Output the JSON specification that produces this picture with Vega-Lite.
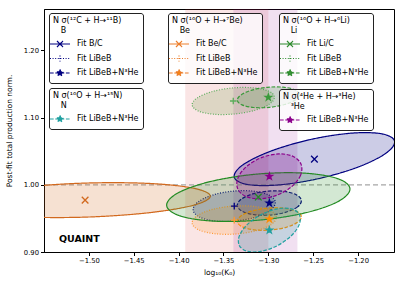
{
"$schema":"https://vega.github.io/schema/vega-lite/v6.json",
"width":350,"height":243,
"autosize":{"type":"none"},
"padding":{"left":44,"top":9,"right":9,"bottom":35},
"background":"white",
"config":{
 "font":"DejaVu Sans",
 "view":{"stroke":"black","strokeWidth":1},
 "axis":{"domainColor":"black","domainWidth":1,"tickColor":"black","tickSize":3.5,"tickWidth":1,"labelFont":"DejaVu Sans","labelFontSize":6.8,"labelColor":"black","labelPadding":2,"labelFlush":false,"labelOverlap":false,"titleFont":"DejaVu Sans","titleFontSize":7.5,"titleFontWeight":"normal","titleColor":"black","grid":false},
 "legend":{"labelFont":"DejaVu Sans","labelFontSize":8,"labelColor":"black","titleFont":"DejaVu Sans","titleFontSize":8,"titleFontWeight":"normal","titleColor":"black","titleLineHeight":10,"titlePadding":2,"titleAnchor":"start","strokeColor":"#222222","fillColor":"rgba(255,255,255,0.8)","cornerRadius":2.5,"padding":4,"symbolSize":144,"rowPadding":1.5,"labelOffset":10,"symbolStrokeWidth":1.2,"symbolOpacity":1}
},
"datasets":{
 "bands":[{"x":-1.3926,"x2":-1.3,"b":"LiBeB"},{"x":-1.339,"x2":-1.2676,"b":"LiBeB+N3He"}],
 "ref":[{"y":1}],
 "pts":[
  {"s":"B1","g":"B","f":"r","x":-1.2487,"y":1.0382},
  {"s":"B2","g":"B","f":"l","x":-1.338,"y":0.9683},
  {"s":"B3","g":"B","f":"n","x":-1.2989,"y":0.9728},
  {"s":"Be1","g":"Be","f":"r","x":-1.5042,"y":0.9772},
  {"s":"Be2","g":"Be","f":"l","x":-1.338,"y":0.9475},
  {"s":"Be3","g":"Be","f":"n","x":-1.2989,"y":0.949},
  {"s":"Li1","g":"Li","f":"r","x":-1.3112,"y":0.9817},
  {"s":"Li2","g":"Li","f":"l","x":-1.3391,"y":1.1246},
  {"s":"Li3","g":"Li","f":"n","x":-1.3,"y":1.1301},
  {"s":"N3","g":"N","f":"n","x":-1.2989,"y":0.9326},
  {"s":"He3","g":"He","f":"n","x":-1.2989,"y":1.0125}
 ],
 "ell":[
  {"s":"B1","i":0,"x":-1.1594,"y":1.065},{"s":"B1","i":1,"x":-1.169,"y":1.0469},{"s":"B1","i":2,"x":-1.1998,"y":1.0265},{"s":"B1","i":3,"x":-1.2438,"y":1.0092},{"s":"B1","i":4,"x":-1.2891,"y":0.9997},{"s":"B1","i":5,"x":-1.3236,"y":1.0005},{"s":"B1","i":6,"x":-1.338,"y":1.0114},{"s":"B1","i":7,"x":-1.3285,"y":1.0295},{"s":"B1","i":8,"x":-1.2976,"y":1.0499},{"s":"B1","i":9,"x":-1.2536,"y":1.0672},{"s":"B1","i":10,"x":-1.2083,"y":1.0767},{"s":"B1","i":11,"x":-1.1739,"y":1.0759},
  {"s":"B2","i":0,"x":-1.2922,"y":0.9743},{"s":"B2","i":1,"x":-1.2976,"y":0.9624},{"s":"B2","i":2,"x":-1.3137,"y":0.952},{"s":"B2","i":3,"x":-1.3364,"y":0.9461},{"s":"B2","i":4,"x":-1.3595,"y":0.9461},{"s":"B2","i":5,"x":-1.3768,"y":0.9521},{"s":"B2","i":6,"x":-1.3838,"y":0.9624},{"s":"B2","i":7,"x":-1.3784,"y":0.9743},{"s":"B2","i":8,"x":-1.3623,"y":0.9846},{"s":"B2","i":9,"x":-1.3396,"y":0.9905},{"s":"B2","i":10,"x":-1.3165,"y":0.9905},{"s":"B2","i":11,"x":-1.2992,"y":0.9846},
  {"s":"B3","i":0,"x":-1.2632,"y":0.9765},{"s":"B3","i":1,"x":-1.2675,"y":0.9671},{"s":"B3","i":2,"x":-1.2802,"y":0.9593},{"s":"B3","i":3,"x":-1.2979,"y":0.955},{"s":"B3","i":4,"x":-1.3159,"y":0.9555},{"s":"B3","i":5,"x":-1.3293,"y":0.9607},{"s":"B3","i":6,"x":-1.3346,"y":0.9691},{"s":"B3","i":7,"x":-1.3303,"y":0.9785},{"s":"B3","i":8,"x":-1.3176,"y":0.9864},{"s":"B3","i":9,"x":-1.2999,"y":0.9906},{"s":"B3","i":10,"x":-1.282,"y":0.9901},{"s":"B3","i":11,"x":-1.2685,"y":0.9849},
  {"s":"Be1","i":0,"x":-1.3647,"y":0.9832},{"s":"Be1","i":1,"x":-1.3831,"y":0.9697},{"s":"Be1","i":2,"x":-1.4339,"y":0.9583},{"s":"Be1","i":3,"x":-1.5036,"y":0.9519},{"s":"Be1","i":4,"x":-1.5735,"y":0.9523},{"s":"Be1","i":5,"x":-1.6247,"y":0.9594},{"s":"Be1","i":6,"x":-1.6437,"y":0.9713},{"s":"Be1","i":7,"x":-1.6253,"y":0.9847},{"s":"Be1","i":8,"x":-1.5747,"y":0.9961},{"s":"Be1","i":9,"x":-1.5048,"y":1.0025},{"s":"Be1","i":10,"x":-1.4344,"y":1.0021},{"s":"Be1","i":11,"x":-1.3837,"y":0.995},
  {"s":"Be2","i":0,"x":-1.2911,"y":0.952},{"s":"Be2","i":1,"x":-1.2968,"y":0.941},{"s":"Be2","i":2,"x":-1.3136,"y":0.9317},{"s":"Be2","i":3,"x":-1.3369,"y":0.9267},{"s":"Be2","i":4,"x":-1.3605,"y":0.9273},{"s":"Be2","i":5,"x":-1.378,"y":0.9333},{"s":"Be2","i":6,"x":-1.3849,"y":0.943},{"s":"Be2","i":7,"x":-1.3792,"y":0.954},{"s":"Be2","i":8,"x":-1.3624,"y":0.9633},{"s":"Be2","i":9,"x":-1.3391,"y":0.9683},{"s":"Be2","i":10,"x":-1.3155,"y":0.9677},{"s":"Be2","i":11,"x":-1.298,"y":0.9618},
  {"s":"Be3","i":0,"x":-1.2632,"y":0.9527},{"s":"Be3","i":1,"x":-1.2675,"y":0.9441},{"s":"Be3","i":2,"x":-1.2802,"y":0.9367},{"s":"Be3","i":3,"x":-1.298,"y":0.9327},{"s":"Be3","i":4,"x":-1.3159,"y":0.933},{"s":"Be3","i":5,"x":-1.3293,"y":0.9376},{"s":"Be3","i":6,"x":-1.3346,"y":0.9453},{"s":"Be3","i":7,"x":-1.3303,"y":0.954},{"s":"Be3","i":8,"x":-1.3176,"y":0.9613},{"s":"Be3","i":9,"x":-1.2999,"y":0.9653},{"s":"Be3","i":10,"x":-1.282,"y":0.965},{"s":"Be3","i":11,"x":-1.2685,"y":0.9604},
  {"s":"Li1","i":0,"x":-1.2091,"y":0.9944},{"s":"Li1","i":1,"x":-1.2216,"y":0.9756},{"s":"Li1","i":2,"x":-1.2581,"y":0.9585},{"s":"Li1","i":3,"x":-1.3088,"y":0.9476},{"s":"Li1","i":4,"x":-1.3602,"y":0.9459},{"s":"Li1","i":5,"x":-1.3984,"y":0.9537},{"s":"Li1","i":6,"x":-1.4133,"y":0.9691},{"s":"Li1","i":7,"x":-1.4008,"y":0.9878},{"s":"Li1","i":8,"x":-1.3643,"y":1.0049},{"s":"Li1","i":9,"x":-1.3136,"y":1.0158},{"s":"Li1","i":10,"x":-1.2622,"y":1.0175},{"s":"Li1","i":11,"x":-1.224,"y":1.0097},
  {"s":"Li2","i":0,"x":-1.2933,"y":1.1306},{"s":"Li2","i":1,"x":-1.2988,"y":1.1201},{"s":"Li2","i":2,"x":-1.315,"y":1.1108},{"s":"Li2","i":3,"x":-1.3377,"y":1.1053},{"s":"Li2","i":4,"x":-1.3608,"y":1.1049},{"s":"Li2","i":5,"x":-1.378,"y":1.1098},{"s":"Li2","i":6,"x":-1.3849,"y":1.1187},{"s":"Li2","i":7,"x":-1.3794,"y":1.1291},{"s":"Li2","i":8,"x":-1.3632,"y":1.1384},{"s":"Li2","i":9,"x":-1.3405,"y":1.144},{"s":"Li2","i":10,"x":-1.3175,"y":1.1443},{"s":"Li2","i":11,"x":-1.2999,"y":1.1394},
  {"s":"Li3","i":0,"x":-1.2654,"y":1.1346},{"s":"Li3","i":1,"x":-1.2695,"y":1.1265},{"s":"Li3","i":2,"x":-1.2818,"y":1.1194},{"s":"Li3","i":3,"x":-1.2989,"y":1.1152},{"s":"Li3","i":4,"x":-1.3164,"y":1.115},{"s":"Li3","i":5,"x":-1.3294,"y":1.1188},{"s":"Li3","i":6,"x":-1.3346,"y":1.1256},{"s":"Li3","i":7,"x":-1.3305,"y":1.1337},{"s":"Li3","i":8,"x":-1.3183,"y":1.1408},{"s":"Li3","i":9,"x":-1.3011,"y":1.145},{"s":"Li3","i":10,"x":-1.2836,"y":1.1452},{"s":"Li3","i":11,"x":-1.2705,"y":1.1414},
  {"s":"N3","i":0,"x":-1.2655,"y":0.9558},{"s":"N3","i":1,"x":-1.2655,"y":0.9411},{"s":"N3","i":2,"x":-1.2744,"y":0.9242},{"s":"N3","i":3,"x":-1.2899,"y":0.9095},{"s":"N3","i":4,"x":-1.3078,"y":0.901},{"s":"N3","i":5,"x":-1.3233,"y":0.901},{"s":"N3","i":6,"x":-1.3323,"y":0.9095},{"s":"N3","i":7,"x":-1.3323,"y":0.9241},{"s":"N3","i":8,"x":-1.3234,"y":0.941},{"s":"N3","i":9,"x":-1.3079,"y":0.9557},{"s":"N3","i":10,"x":-1.29,"y":0.9642},{"s":"N3","i":11,"x":-1.2745,"y":0.9642},
  {"s":"He3","i":0,"x":-1.2635,"y":1.0304},{"s":"He3","i":1,"x":-1.2642,"y":1.0139},{"s":"He3","i":2,"x":-1.2742,"y":0.997},{"s":"He3","i":3,"x":-1.2909,"y":0.9843},{"s":"He3","i":4,"x":-1.3096,"y":0.9791},{"s":"He3","i":5,"x":-1.3255,"y":0.9829},{"s":"He3","i":6,"x":-1.3343,"y":0.9946},{"s":"He3","i":7,"x":-1.3336,"y":1.0111},{"s":"He3","i":8,"x":-1.3236,"y":1.028},{"s":"He3","i":9,"x":-1.307,"y":1.0407},{"s":"He3","i":10,"x":-1.2882,"y":1.0459},{"s":"He3","i":11,"x":-1.2723,"y":1.0421}
 ]
},
"layer":[
 {"data":{"name":"bands"},"mark":{"type":"rect","opacity":0.12},
  "encoding":{
   "x":{"field":"x","type":"quantitative","scale":{"domain":[-1.55,-1.16],"nice":false,"zero":false},"axis":{"values":[-1.5,-1.45,-1.4,-1.35,-1.3,-1.25,-1.2],"format":".2f","title":"log₁₀(K₀)","titlePadding":4}},
   "x2":{"field":"x2"},
   "color":{"field":"b","type":"nominal","scale":{"domain":["LiBeB","LiBeB+N3He"],"range":["#d62728","#8b008b"]},"legend":null}}},
 {"data":{"name":"ref"},"mark":{"type":"rule","color":"#a6a6a6","strokeDash":[5,3],"strokeWidth":1.2},
  "encoding":{
   "y":{"field":"y","type":"quantitative","scale":{"domain":[0.9,1.2615],"nice":false,"zero":false},"axis":{"values":[0.9,0.95,1,1.05,1.1,1.15,1.2,1.25],"format":".2f","title":"Post-fit total production norm.","titlePadding":10}}}},
 {"data":{"name":"ell"},"mark":{"type":"line","interpolate":"cardinal-closed","strokeWidth":1.2,"fillOpacity":0.2,"clip":true},
  "encoding":{
   "x":{"field":"x","type":"quantitative","scale":{"domain":[-1.55,-1.16],"nice":false,"zero":false},"axis":{"values":[-1.5,-1.45,-1.4,-1.35,-1.3,-1.25,-1.2],"format":".2f","title":"log₁₀(K₀)","titlePadding":4}},
   "y":{"field":"y","type":"quantitative","scale":{"domain":[0.9,1.2615],"nice":false,"zero":false},"axis":{"values":[0.9,0.95,1,1.05,1.1,1.15,1.2,1.25],"format":".2f","title":"Post-fit total production norm.","titlePadding":10}},
   "order":{"field":"i","type":"quantitative"},
   "detail":{"field":"s"},
   "stroke":{"field":"s","type":"nominal","scale":{"domain":["B1","B2","B3","Be1","Be2","Be3","Li1","Li2","Li3","N3","He3"],"range":["#000080","#000080","#000080","#d2691e","#ff9933","#ff8c00","#228b22","#5cad5c","#3a9a3a","#20a0a0","#8b008b"]},"legend":null},
   "fill":{"field":"s","type":"nominal","scale":{"domain":["B1","B2","B3","Be1","Be2","Be3","Li1","Li2","Li3","N3","He3"],"range":["#000080","#000080","#000080","#d2691e","#ff9933","#ff8c00","#228b22","#6a9a40","#3a9a3a","#20a0a0","#8b008b"]},"legend":null},
   "strokeDash":{"field":"s","type":"nominal","scale":{"domain":["B1","B2","B3","Be1","Be2","Be3","Li1","Li2","Li3","N3","He3"],"range":[[1,0],[1,1.6],[3.7,1.6],[1,0],[1,1.6],[3.7,1.6],[1,0],[1,1.6],[3.7,1.6],[3.7,1.6],[3.7,1.6]]},"legend":null}}},
 {"data":{"name":"pts"},"mark":{"type":"point","size":44,"strokeWidth":1.3,"opacity":1},
  "encoding":{
   "x":{"field":"x","type":"quantitative","scale":{"domain":[-1.55,-1.16],"nice":false,"zero":false},"axis":{"values":[-1.5,-1.45,-1.4,-1.35,-1.3,-1.25,-1.2],"format":".2f","title":"log₁₀(K₀)","titlePadding":4}},
   "y":{"field":"y","type":"quantitative","scale":{"domain":[0.9,1.2615],"nice":false,"zero":false},"axis":{"values":[0.9,0.95,1,1.05,1.1,1.15,1.2,1.25],"format":".2f","title":"Post-fit total production norm.","titlePadding":10}},
   "shape":{"field":"f","type":"nominal","scale":{"domain":["r","l","n"],"range":["M-1,-1L1,1M-1,1L1,-1","M-1,0H1M0,-1V1","M0,-1L0.225,-0.309L0.951,-0.309L0.363,0.118L0.588,0.809L0,0.382L-0.588,0.809L-0.363,0.118L-0.951,-0.309L-0.225,-0.309Z"]},"legend":null},
   "stroke":{"field":"s","type":"nominal","scale":{"domain":["B1","B2","B3","Be1","Be2","Be3","Li1","Li2","Li3","N3","He3"],"range":["#000080","#000080","#000080","#d2691e","#ff9933","#ff8c00","#228b22","#5cad5c","#3a9a3a","#20a0a0","#8b008b"]},"legend":null},
   "fill":{"field":"s","type":"nominal","scale":{"domain":["B1","B2","B3","Be1","Be2","Be3","Li1","Li2","Li3","N3","He3"],"range":["#000080","#000080","#000080","#d2691e","#ff9933","#ff8c00","#228b22","#5cad5c","#3a9a3a","#20a0a0","#8b008b"]},"legend":null}}},
 {"data":{"values":[{"x":-1.5333,"y":0.915,"t":"QUAINT"}]},"mark":{"type":"text","align":"left","baseline":"alphabetic","fontSize":9.5,"fontWeight":"bold","font":"DejaVu Sans","color":"black"},
  "encoding":{
   "x":{"field":"x","type":"quantitative","scale":{"domain":[-1.55,-1.16],"nice":false,"zero":false},"axis":{"values":[-1.5,-1.45,-1.4,-1.35,-1.3,-1.25,-1.2],"format":".2f","title":"log₁₀(K₀)","titlePadding":4}},
   "y":{"field":"y","type":"quantitative","scale":{"domain":[0.9,1.2615],"nice":false,"zero":false},"axis":{"values":[0.9,0.95,1,1.05,1.1,1.15,1.2,1.25],"format":".2f","title":"Post-fit total production norm.","titlePadding":10}},
   "text":{"field":"t"}}},
 {"data":{"name":"pts"},"transform":[{"filter":"datum.g == 'B'"}],"mark":{"type":"point","filled":true,"size":0,"strokeWidth":1.2,"stroke":"#000080"},
  "encoding":{
   "x":{"field":"x","type":"quantitative","scale":{"domain":[-1.55,-1.16],"nice":false,"zero":false}},
   "y":{"field":"y","type":"quantitative","scale":{"domain":[0.9,1.2615],"nice":false,"zero":false}},
   "color":{"field":"f","type":"nominal","scale":{"domain":["r","l","n"],"range":["#000080","#000080","#000080"]},"legend":{"title":["N σ(¹²C + H→¹¹B)","\u200b\u00a0\u00a0\u00a0B"],"orient":"none","legendX":5,"legendY":4,"labelExpr":"datum.label == 'r' ? 'Fit B/C' : datum.label == 'l' ? 'Fit LiBeB' : 'Fit LiBeB+N³He'"}},
   "shape":{"field":"f","type":"nominal","scale":{"domain":["r","l","n"],"range":["M-1.67,0H1.67M-0.5,-0.5L0.5,0.5M-0.5,0.5L0.5,-0.5","M-1.67,0H1.67M0,-0.5V0.5","M-1.67,0H1.67M0,-0.6L0.135,-0.185L0.571,-0.185L0.218,0.071L0.353,0.485L0,0.229L-0.353,0.485L-0.218,0.071L-0.571,-0.185L-0.135,-0.185Z"]},"legend":{"title":["N σ(¹²C + H→¹¹B)","\u200b\u00a0\u00a0\u00a0B"],"orient":"none","legendX":5,"legendY":4,"labelExpr":"datum.label == 'r' ? 'Fit B/C' : datum.label == 'l' ? 'Fit LiBeB' : 'Fit LiBeB+N³He'"}},
   "strokeDash":{"field":"f","type":"nominal","scale":{"domain":["r","l","n"],"range":[[1,0],[1,1.6],[3.7,1.6]]},"legend":{"title":["N σ(¹²C + H→¹¹B)","\u200b\u00a0\u00a0\u00a0B"],"orient":"none","legendX":5,"legendY":4,"labelExpr":"datum.label == 'r' ? 'Fit B/C' : datum.label == 'l' ? 'Fit LiBeB' : 'Fit LiBeB+N³He'"}}}},
 {"data":{"name":"pts"},"transform":[{"filter":"datum.g == 'Be'"}],"mark":{"type":"point","filled":true,"size":0,"strokeWidth":1.2,"stroke":"#ec7d2a"},
  "encoding":{
   "x":{"field":"x","type":"quantitative","scale":{"domain":[-1.55,-1.16],"nice":false,"zero":false}},
   "y":{"field":"y","type":"quantitative","scale":{"domain":[0.9,1.2615],"nice":false,"zero":false}},
   "color":{"field":"f","type":"nominal","scale":{"domain":["r","l","n"],"range":["#d2691e","#ff9933","#ff8c00"]},"legend":{"title":["N σ(¹⁶O + H→⁷Be)","\u200b\u00a0\u00a0\u00a0Be"],"orient":"none","legendX":124,"legendY":4,"labelExpr":"datum.label == 'r' ? 'Fit Be/C' : datum.label == 'l' ? 'Fit LiBeB' : 'Fit LiBeB+N³He'"}},
   "shape":{"field":"f","type":"nominal","scale":{"domain":["r","l","n"],"range":["M-1.67,0H1.67M-0.5,-0.5L0.5,0.5M-0.5,0.5L0.5,-0.5","M-1.67,0H1.67M0,-0.5V0.5","M-1.67,0H1.67M0,-0.6L0.135,-0.185L0.571,-0.185L0.218,0.071L0.353,0.485L0,0.229L-0.353,0.485L-0.218,0.071L-0.571,-0.185L-0.135,-0.185Z"]},"legend":{"title":["N σ(¹⁶O + H→⁷Be)","\u200b\u00a0\u00a0\u00a0Be"],"orient":"none","legendX":124,"legendY":4,"labelExpr":"datum.label == 'r' ? 'Fit Be/C' : datum.label == 'l' ? 'Fit LiBeB' : 'Fit LiBeB+N³He'"}},
   "strokeDash":{"field":"f","type":"nominal","scale":{"domain":["r","l","n"],"range":[[1,0],[1,1.6],[3.7,1.6]]},"legend":{"title":["N σ(¹⁶O + H→⁷Be)","\u200b\u00a0\u00a0\u00a0Be"],"orient":"none","legendX":124,"legendY":4,"labelExpr":"datum.label == 'r' ? 'Fit Be/C' : datum.label == 'l' ? 'Fit LiBeB' : 'Fit LiBeB+N³He'"}}}},
 {"data":{"name":"pts"},"transform":[{"filter":"datum.g == 'Li'"}],"mark":{"type":"point","filled":true,"size":0,"strokeWidth":1.2,"stroke":"#2e8b2e"},
  "encoding":{
   "x":{"field":"x","type":"quantitative","scale":{"domain":[-1.55,-1.16],"nice":false,"zero":false}},
   "y":{"field":"y","type":"quantitative","scale":{"domain":[0.9,1.2615],"nice":false,"zero":false}},
   "color":{"field":"f","type":"nominal","scale":{"domain":["r","l","n"],"range":["#228b22","#5cad5c","#3a9a3a"]},"legend":{"title":["N σ(¹⁶O + H→⁶Li)","\u200b\u00a0\u00a0\u00a0Li"],"orient":"none","legendX":235,"legendY":4,"labelExpr":"datum.label == 'r' ? 'Fit Li/C' : datum.label == 'l' ? 'Fit LiBeB' : 'Fit LiBeB+N³He'"}},
   "shape":{"field":"f","type":"nominal","scale":{"domain":["r","l","n"],"range":["M-1.67,0H1.67M-0.5,-0.5L0.5,0.5M-0.5,0.5L0.5,-0.5","M-1.67,0H1.67M0,-0.5V0.5","M-1.67,0H1.67M0,-0.6L0.135,-0.185L0.571,-0.185L0.218,0.071L0.353,0.485L0,0.229L-0.353,0.485L-0.218,0.071L-0.571,-0.185L-0.135,-0.185Z"]},"legend":{"title":["N σ(¹⁶O + H→⁶Li)","\u200b\u00a0\u00a0\u00a0Li"],"orient":"none","legendX":235,"legendY":4,"labelExpr":"datum.label == 'r' ? 'Fit Li/C' : datum.label == 'l' ? 'Fit LiBeB' : 'Fit LiBeB+N³He'"}},
   "strokeDash":{"field":"f","type":"nominal","scale":{"domain":["r","l","n"],"range":[[1,0],[1,1.6],[3.7,1.6]]},"legend":{"title":["N σ(¹⁶O + H→⁶Li)","\u200b\u00a0\u00a0\u00a0Li"],"orient":"none","legendX":235,"legendY":4,"labelExpr":"datum.label == 'r' ? 'Fit Li/C' : datum.label == 'l' ? 'Fit LiBeB' : 'Fit LiBeB+N³He'"}}}},
 {"data":{"name":"pts"},"transform":[{"filter":"datum.g == 'N'"}],"mark":{"type":"point","filled":true,"size":0,"strokeWidth":1.2,"stroke":"#20a0a0"},
  "encoding":{
   "x":{"field":"x","type":"quantitative","scale":{"domain":[-1.55,-1.16],"nice":false,"zero":false}},
   "y":{"field":"y","type":"quantitative","scale":{"domain":[0.9,1.2615],"nice":false,"zero":false}},
   "color":{"field":"f","type":"nominal","scale":{"domain":["n"],"range":["#20a0a0"]},"legend":{"title":["N σ(¹⁶O + H→¹⁵N)","\u200b\u00a0\u00a0\u00a0N"],"orient":"none","legendX":5,"legendY":79,"labelExpr":"'Fit LiBeB+N³He'"}},
   "shape":{"field":"f","type":"nominal","scale":{"domain":["n"],"range":["M-1.67,0H1.67M0,-0.6L0.135,-0.185L0.571,-0.185L0.218,0.071L0.353,0.485L0,0.229L-0.353,0.485L-0.218,0.071L-0.571,-0.185L-0.135,-0.185Z"]},"legend":{"title":["N σ(¹⁶O + H→¹⁵N)","\u200b\u00a0\u00a0\u00a0N"],"orient":"none","legendX":5,"legendY":79,"labelExpr":"'Fit LiBeB+N³He'"}},
   "strokeDash":{"field":"f","type":"nominal","scale":{"domain":["n"],"range":[[3.7,1.6]]},"legend":{"title":["N σ(¹⁶O + H→¹⁵N)","\u200b\u00a0\u00a0\u00a0N"],"orient":"none","legendX":5,"legendY":79,"labelExpr":"'Fit LiBeB+N³He'"}}}},
 {"data":{"name":"pts"},"transform":[{"filter":"datum.g == 'He'"}],"mark":{"type":"point","filled":true,"size":0,"strokeWidth":1.2,"stroke":"#8b008b"},
  "encoding":{
   "x":{"field":"x","type":"quantitative","scale":{"domain":[-1.55,-1.16],"nice":false,"zero":false}},
   "y":{"field":"y","type":"quantitative","scale":{"domain":[0.9,1.2615],"nice":false,"zero":false}},
   "color":{"field":"f","type":"nominal","scale":{"domain":["n"],"range":["#8b008b"]},"legend":{"title":["N σ(⁴He + H→³He)","\u200b\u00a0\u00a0\u00a0³He"],"orient":"none","legendX":235,"legendY":80,"labelExpr":"'Fit LiBeB+N³He'"}},
   "shape":{"field":"f","type":"nominal","scale":{"domain":["n"],"range":["M-1.67,0H1.67M0,-0.6L0.135,-0.185L0.571,-0.185L0.218,0.071L0.353,0.485L0,0.229L-0.353,0.485L-0.218,0.071L-0.571,-0.185L-0.135,-0.185Z"]},"legend":{"title":["N σ(⁴He + H→³He)","\u200b\u00a0\u00a0\u00a0³He"],"orient":"none","legendX":235,"legendY":80,"labelExpr":"'Fit LiBeB+N³He'"}},
   "strokeDash":{"field":"f","type":"nominal","scale":{"domain":["n"],"range":[[3.7,1.6]]},"legend":{"title":["N σ(⁴He + H→³He)","\u200b\u00a0\u00a0\u00a0³He"],"orient":"none","legendX":235,"legendY":80,"labelExpr":"'Fit LiBeB+N³He'"}}}}
],
"resolve":{"scale":{"color":"independent","fill":"independent","stroke":"independent","shape":"independent","strokeDash":"independent"}}
}
